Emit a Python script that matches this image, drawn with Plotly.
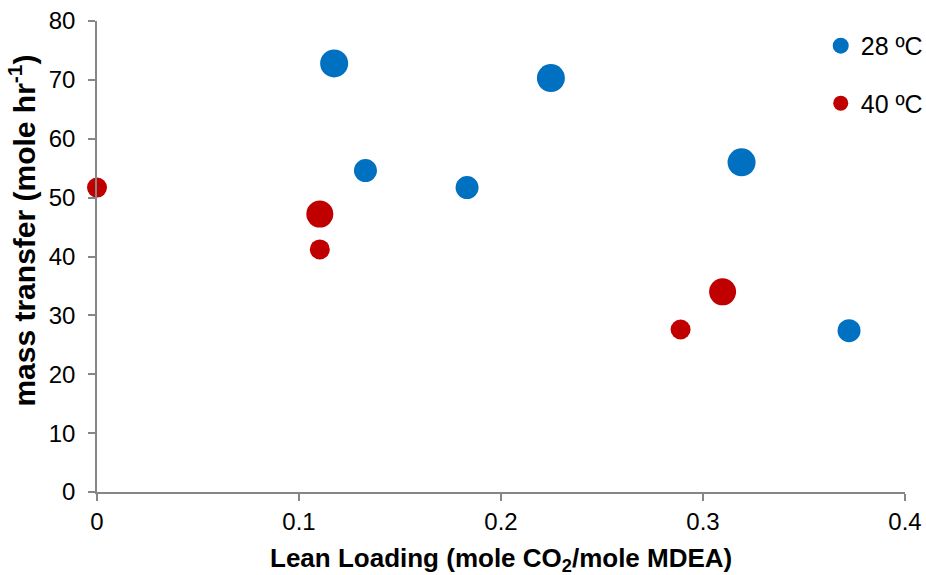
import plotly.graph_objects as go

# 28 ºC series
x28 = [0.1174, 0.2247, 0.3191, 0.1329, 0.1832, 0.3723]
y28 = [72.8, 70.3, 56.0, 54.6, 51.7, 27.4]
s28 = [28, 28, 28, 23, 23, 23]

# 40 ºC series
x40 = [0.0, 0.1103, 0.1103, 0.2889, 0.3097]
y40 = [51.7, 47.2, 41.2, 27.6, 34.0]
s40 = [20, 27, 20, 20, 27]

names = ["28 ºC", "40 ºC"]
colors = ["#0070C0", "#C00000"]
legend_sizes = [20, 15]

xticks = [0, 0.1, 0.2, 0.3, 0.4]
yticks = [0, 10, 20, 30, 40, 50, 60, 70, 80]

FONT = "Liberation Sans, Arial, sans-serif"
AXC = "#868686"

fig = go.Figure()
for xs, ys, ss, c in [(x28, y28, s28, colors[0]), (x40, y40, s40, colors[1])]:
    fig.add_trace(go.Scatter(
        x=xs, y=ys, mode="markers", showlegend=False, cliponaxis=False,
        marker=dict(size=ss, color=c, opacity=1, line=dict(width=0)),
        hoverinfo="x+y",
    ))
for i, (n, c, s) in enumerate(zip(names, colors, legend_sizes)):
    fig.add_trace(go.Scatter(
        x=[None], y=[None], mode="markers", name=n, legendgroup=f"g{i}",
        marker=dict(size=s, color=c, opacity=1),
    ))

fig.update_layout(
    width=926, height=575,
    margin=dict(l=97, r=21, t=21, b=83, autoexpand=False),
    paper_bgcolor="white", plot_bgcolor="white",
    font=dict(family=FONT, color="#000000", size=24),
    showlegend=True,
    legend=dict(
        x=0.8957, y=0.996, xanchor="left", yanchor="top",
        font=dict(family=FONT, size=25, color="#000000"),
        tracegroupgap=22, itemsizing="trace", bgcolor="rgba(0,0,0,0)",
    ),
    xaxis=dict(
        range=[0, 0.4], tickvals=xticks, ticktext=[str(v) for v in xticks],
        showgrid=False, zeroline=False, showline=True, linecolor=AXC, linewidth=1.5,
        ticks="outside", ticklen=7, tickwidth=1.5, tickcolor=AXC,
        tickfont=dict(family=FONT, size=24),
    ),
    yaxis=dict(
        range=[0, 80], tickvals=yticks,
        showgrid=False, zeroline=False, showline=True, linecolor=AXC, linewidth=1.5,
        ticks="outside", ticklen=7, tickwidth=1.5, tickcolor=AXC,
        ticklabelstandoff=8,
        tickfont=dict(family=FONT, size=24),
    ),
    annotations=[
        dict(
            text="<b>mass transfer (mole hr<sup>-1</sup>)</b>",
            textangle=-90, xref="paper", yref="paper",
            x=-0.0928, y=0.555, xanchor="center", yanchor="middle",
            showarrow=False, font=dict(family=FONT, size=30, color="#000000"),
        ),
        dict(
            text="<b>Lean Loading (mole CO<sub>2</sub>/mole MDEA)</b>",
            xref="paper", yref="paper",
            x=0.5, y=-0.143, xanchor="center", yanchor="middle",
            showarrow=False, font=dict(family=FONT, size=26, color="#000000"),
        ),
    ],
)

fig.write_html(
    "out.html",
    config={"displayModeBar": False},
    post_script="document.body.style.margin='0px';document.body.style.overflow='hidden';",
)
